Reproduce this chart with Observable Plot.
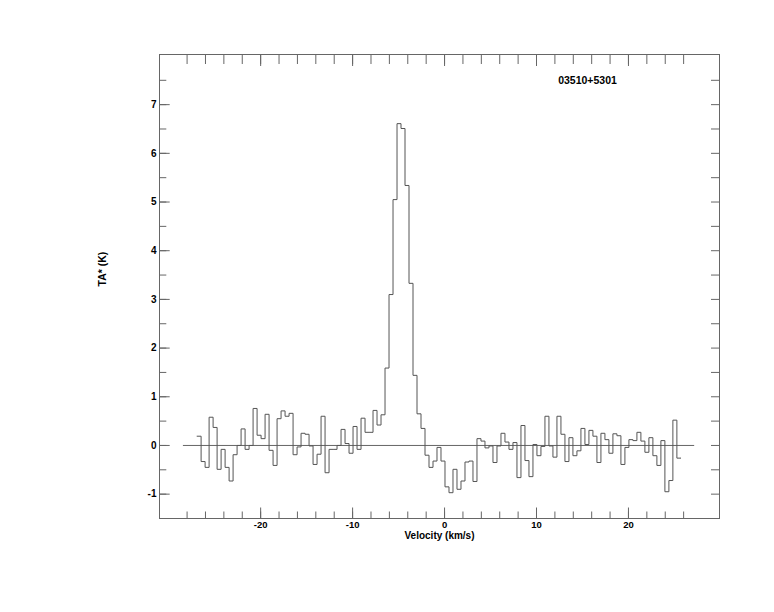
<!DOCTYPE html>
<html>
<head>
<meta charset="utf-8">
<script src="https://cdn.jsdelivr.net/npm/d3@7"></script>
<script src="https://cdn.jsdelivr.net/npm/@observablehq/plot@0.6"></script>
<style>
  html, body { margin: 0; padding: 0; background: #fff; }
  #chart svg { display: block; }
</style>
</head>
<body>
<div id="chart"></div>
<script>
// Spectrum of 03510+5301: antenna temperature per channel
const sourceName = "03510+5301";
const channelStart = -26.91;   // km/s, left edge of first channel
const channelWidth = 0.4348;   // km/s
const antennaTemp = [
  0.19, -0.33, -0.45, 0.58, 0.37, -0.49, -0.08, -0.45, -0.73, -0.19,
  0.00, 0.34, -0.08, 0.00, 0.76, 0.21, 0.14, 0.64, -0.10, -0.41,
  0.55, 0.71, 0.60, 0.66, -0.19, -0.03, 0.25, 0.23, -0.01, -0.39,
  -0.18, 0.60, -0.56, -0.08, -0.08, 0.00, 0.33, 0.04, -0.16, 0.39,
  -0.08, 0.56, 0.27, 0.27, 0.72, 0.42, 0.63, 1.59, 3.10, 5.05,
  6.61, 6.51, 5.34, 3.33, 1.44, 0.65, 0.35, -0.20, -0.45, -0.32,
  -0.04, -0.32, -0.85, -0.97, -0.49, -0.90, -0.73, -0.34, -0.32, -0.74,
  0.14, 0.09, -0.05, -0.01, -0.35, -0.01, 0.25, 0.07, -0.08, 0.06,
  -0.66, 0.41, -0.31, -0.64, 0.02, -0.21, -0.02, 0.60, -0.01, -0.24,
  0.60, 0.23, -0.33, 0.16, -0.21, -0.11, 0.35, 0.02, 0.31, 0.19,
  -0.35, 0.25, 0.12, -0.16, 0.24, 0.20, -0.39, -0.04, 0.12, 0.10,
  0.27, 0.09, -0.14, 0.16, -0.21, -0.41, 0.10, -0.95, -0.72, 0.52,
  -0.26
];
const baselineRange = [-28.4, 27.2];
const xDomain = [-31, 29.9];
const yDomain = [-1.5, 8.03];
const xMajorTicks = [-20, -10, 0, 10, 20];
const xMinorTicks = [-28, -26, -24, -22, -20, -18, -16, -14, -12, -10, -8, -6, -4, -2, 0, 2, 4, 6, 8, 10, 12, 14, 16, 18, 20, 22, 24, 26];
const yMajorTicks = [-1, 0, 1, 2, 3, 4, 5, 6, 7];
const yMinorTicks = [-1, -0.5, 0, 0.5, 1, 1.5, 2, 2.5, 3, 3.5, 4, 4.5, 5, 5.5, 6, 6.5, 7, 7.5];
const xLabel = "Velocity (km/s)";
const yLabel = "TA* (K)";

// step table: left edges plus closing right edge
const rows = antennaTemp.map((t, i) => ({v: channelStart + i * channelWidth, t}));
rows.push({v: channelStart + antennaTemp.length * channelWidth, t: antennaTemp[antennaTemp.length - 1]});

const gray = "#666";
const blank = () => "";
const plain = (d) => String(d);

const chart = Plot.plot({
  width: 774,
  height: 612,
  marginLeft: 159,
  marginRight: 55,
  marginTop: 54,
  marginBottom: 94,
  style: {fontFamily: "'Liberation Sans', Arial, sans-serif", fontSize: "10px", fontWeight: "bold", color: "#000", background: "#fff"},
  x: {domain: xDomain, label: null},
  y: {domain: yDomain, label: null},
  marks: [
    Plot.frame({stroke: gray}),
    // inward ticks, bottom
    Plot.axisX({anchor: "bottom", ticks: xMinorTicks, tickSize: -6.5, tickFormat: blank, stroke: gray, label: null}),
    Plot.axisX({anchor: "bottom", ticks: xMajorTicks, tickSize: -10.5, tickFormat: blank, stroke: gray, label: null}),
    // inward ticks, top
    Plot.axisX({anchor: "top", ticks: xMinorTicks, tickSize: -9, tickFormat: blank, stroke: gray, label: null}),
    Plot.axisX({anchor: "top", ticks: xMajorTicks, tickSize: -11, tickFormat: blank, stroke: gray, label: null}),
    // inward ticks, left
    Plot.axisY({anchor: "left", ticks: yMinorTicks, tickSize: -7.3, tickFormat: blank, stroke: gray, label: null}),
    Plot.axisY({anchor: "left", ticks: yMajorTicks, tickSize: -10.7, tickFormat: blank, stroke: gray, label: null}),
    // inward ticks, right
    Plot.axisY({anchor: "right", ticks: yMinorTicks, tickSize: -9, tickFormat: blank, stroke: gray, label: null}),
    // tick labels
    Plot.axisX({anchor: "bottom", ticks: xMajorTicks, tickSize: 0, tickPadding: 3, tickFormat: plain, label: null, fill: "#000", fontSize: 9.5}),
    Plot.axisY({anchor: "left", ticks: yMajorTicks, tickSize: 0, tickPadding: 3, tickFormat: plain, label: null, fill: "#000"}),
    // zero baseline
    Plot.ruleY([0], {x1: baselineRange[0], x2: baselineRange[1], stroke: gray, strokeWidth: 1}),
    // spectrum
    Plot.line(rows, {x: "v", y: "t", curve: "step-after", stroke: "#555", strokeWidth: 1}),
    // texts
    Plot.text([sourceName], {frameAnchor: "top", dx: 148, dy: 22.5, fill: "#000", fontSize: 10.5, fontWeight: "bold"}),
    Plot.text([xLabel], {frameAnchor: "bottom", dy: 20, fill: "#000", fontSize: 10, fontWeight: "bold"}),
    Plot.text([yLabel], {frameAnchor: "left", dx: -57, rotate: -90, fill: "#000", fontSize: 10.5, fontWeight: "bold"})
  ]
});

document.getElementById("chart").appendChild(chart);
</script>
</body>
</html>
